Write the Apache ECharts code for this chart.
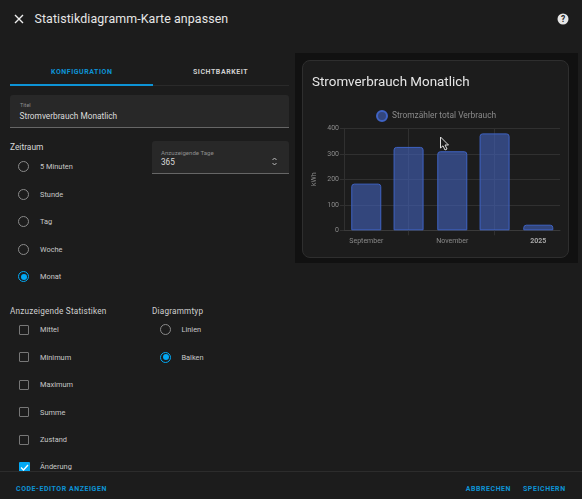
<!DOCTYPE html>
<html><head><meta charset="utf-8">
<script src="https://cdn.jsdelivr.net/npm/echarts@6/dist/echarts.min.js"></script>
<style>
html,body{margin:0;padding:0;background:#1c1c1c;width:582px;height:499px;overflow:hidden;font-family:Roboto,sans-serif;color:#e1e1e1}
#wrap{position:absolute;left:0;top:0;width:582px;height:499px;background:#1c1c1c;filter:blur(.3px)}
.t{position:absolute;white-space:nowrap;line-height:1;transform:translateY(-50%)}
.b{position:absolute}
.radio{position:absolute;width:9px;height:9px;border:1.5px solid #8a8a8a;border-radius:50%}
.radio.on{border-color:#03a9f4}
.radio.on:after{content:"";position:absolute;left:1.5px;top:1.5px;width:6px;height:6px;border-radius:50%;background:#03a9f4}
.cb{position:absolute;width:8px;height:8px;border:1.5px solid #777;border-radius:1px}
#panel{position:absolute;left:295px;top:53px;width:283px;height:210px;background:#111}
#card{position:absolute;left:302px;top:60px;width:265px;height:196px;background:#1c1c1c;border:1px solid #2e2e2e;border-radius:8px}
#chart{position:absolute;left:295px;top:53px;width:283px;height:210px}
</style></head><body>
<div id="wrap">
<div id="ui"></div>
<div id="panel"></div><div id="card"></div><div id="chart"></div>
<svg class="b" style="left:439px;top:136px" width="11" height="16" viewBox="0 0 11 16"><path d="M1.5 1 L1.5 12 L4 9.8 L6 14 L8 13 L6 9 L9.5 9 Z" fill="#1a1a1a" stroke="#ddd" stroke-width="1"/></svg>
</div>
<script>
const months = ['2024-09-01','2024-10-01','2024-11-01','2024-12-01','2025-01-01'];
const usage = [183, 327, 310, 380, 22];
const seriesName = 'Stromzähler total Verbrauch';
const chartTitle = 'Stromverbrauch Monatlich';
const yTicks = [0,100,200,300,400];
const labelMap = {'2024-09-01':'September','2024-11-01':'November','2025-01-01':'2025'};
const periods = ['5 Minuten','Stunde','Tag','Woche','Monat'];
const stats = ['Mittel','Minimum','Maximum','Summe','Zustand','Änderung'];
const chartTypes = ['Linien','Balken'];

const ui = document.getElementById('ui');
let h = '';
const T=(x,y,s,txt,extra='')=>{h+=`<div class="t" style="left:${x}px;top:${y}px;font-size:${s}px;${extra}">${txt}</div>`};
const B=(x,y,w,ht,c,extra='')=>{h+=`<div class="b" style="left:${x}px;top:${y}px;width:${w}px;height:${ht}px;background:${c};${extra}"></div>`};
const blue='#0d93d6';
const btn=`color:${blue};font-weight:700;letter-spacing:.55px`;
// header
h+=`<svg class="b" style="left:14px;top:14px" width="10" height="10"><path d="M1 1L9 9M9 1L1 9" stroke="#eee" stroke-width="1.4"/></svg>`;
T(34.5,19,12.4,'Statistikdiagramm-Karte anpassen','color:#e6e6e6;letter-spacing:.1px');
h+=`<svg class="b" style="left:557px;top:13px" width="12" height="12"><circle cx="6" cy="6" r="5.5" fill="#e6e6e6"/><text x="6" y="9" font-size="8.5" font-weight="700" text-anchor="middle" fill="#1c1c1c" font-family="Roboto">?</text></svg>`;
// tabs
T(51,72,7,'KONFIGURATION',btn);
T(193,72,7,'SICHTBARKEIT','color:#d0d0d0;font-weight:700;letter-spacing:.55px');
B(10,84,143,2,'#0d93d6'); B(153,85,136,1,'#2a2a2a');
// title field
B(10,95,279,33,'#282828','border-radius:3px 3px 0 0');
B(10,126.5,279,1.5,'#666');
T(20,106,5.5,'Titel','color:#8d8d8d');
T(19.5,115.5,8.3,chartTitle,'color:#dcdcdc');
// Zeitraum
T(10,147,8.4,'Zeitraum','color:#d8d8d8');
const py=[167,194.5,222,250,277];
periods.forEach((p,i)=>{h+=`<div class="radio${i==4?' on':''}" style="left:18px;top:${py[i]-6}px"></div>`;T(40,py[i],7.4,p,'color:#c8c8c8')});
// days
B(152,141,137,33,'#282828','border-radius:3px 3px 0 0');
B(152,172.5,137,1.5,'#666');
T(161,152.5,6.1,'Anzuzeigende Tage','color:#8d8d8d');
T(161,161.5,8.2,'365','color:#dcdcdc');
h+=`<svg class="b" style="left:270px;top:156px" width="9" height="11"><path d="M2.5 4L4.5 2L6.5 4M2.5 7L4.5 9L6.5 7" fill="none" stroke="#bbb" stroke-width="1"/></svg>`;
// stats
T(10,310.7,8.2,'Anzuzeigende Statistiken','color:#d0d0d0;letter-spacing:.2px');
T(152,310.7,8.2,'Diagrammtyp','color:#d0d0d0;letter-spacing:.2px');
const sy=[330,357.7,385,412.7,440,467];
stats.forEach((s,i)=>{
 if(i<5) h+=`<div class="cb" style="left:19px;top:${sy[i]-5.5}px"></div>`;
 else h+=`<div class="b" style="left:19px;top:${sy[i]-5.5}px;width:10.5px;height:11px;background:#03a9f4;border-radius:1px"><svg width="11" height="11" style="display:block"><path d="M2 5.5L4.5 8L9 3" fill="none" stroke="#fff" stroke-width="1.3"/></svg></div>`;
 T(40,sy[i],7.4,s,'color:#c8c8c8');
});
chartTypes.forEach((s,i)=>{h+=`<div class="radio${i==1?' on':''}" style="left:160px;top:${sy[i]-6}px"></div>`;T(181.5,sy[i],7.4,s,'color:#c8c8c8')});
// footer
B(0,471,582,28,'#1c1c1c'); B(0,471,582,1,'#2c2c2c');
T(16,489,7,'CODE-EDITOR ANZEIGEN',btn);
T(465.7,489,7,'ABBRECHEN',btn);
T(523,489,7,'SPEICHERN',btn);
ui.innerHTML=h;

const ts = s => new Date(s+'T00:00:00Z').getTime();
const DAY = 864e5;
const chart = echarts.init(document.getElementById('chart'), null, {renderer:'canvas'});
chart.setOption({
  animation:false,
  backgroundColor:'transparent',
  title:{text:chartTitle,left:17,top:23,padding:0,textStyle:{color:'#e6e6e6',fontFamily:'Roboto',fontSize:13.4,fontWeight:400}},
  legend:{top:57,left:81,padding:0,itemWidth:10,itemHeight:10,icon:'circle',itemGap:1,
    data:[seriesName],textStyle:{color:'#8a8a8a',fontFamily:'Roboto',fontSize:8.4}},
  grid:{left:49,top:75.3,width:216,height:102},
  xAxis:{type:'value',
    min:ts(months[0])-15.8*DAY,max:ts(months[4])+15.4*DAY,
    axisLine:{onZero:false,lineStyle:{color:'#3a3a3a',width:1}},
    axisTick:{show:true,length:5,lineStyle:{color:'#303030'},customValues:[ts(months[1]),ts(months[3])]},
    splitLine:{show:true,lineStyle:{color:'#303030',width:1}},
    axisLabel:{color:'#8a8a8a',fontFamily:'Roboto',fontSize:7,margin:7,hideOverlap:false,showMinLabel:true,showMaxLabel:true,
      customValues:[ts(months[0]),ts(months[2]),ts(months[4])],
      formatter:function(v){const d=new Date(v).toISOString().slice(0,10);const l=labelMap[d]||'';return d==='2025-01-01'?'{y|'+l+'}':l;},
      rich:{y:{color:'#a8a8a8',fontWeight:700,fontSize:7,fontFamily:'Roboto'}}}
  },
  yAxis:{type:'value',min:yTicks[0],max:yTicks[4],interval:100,name:'kWh',nameLocation:'middle',nameGap:26,nameMoveOverlap:false,
    nameTextStyle:{color:'#8a8a8a',fontFamily:'Roboto',fontSize:7},
    axisLine:{show:true,lineStyle:{color:'#303030'}},
    axisTick:{show:true,length:4,lineStyle:{color:'#303030'}},
    splitLine:{lineStyle:{color:'#303030',width:1}},
    axisLabel:{color:'#8a8a8a',fontFamily:'Roboto',fontSize:7,margin:5}},
  series:[{name:seriesName,type:'bar',barWidth:30,
    data:months.map((m,i)=>[ts(m),usage[i]]),
    itemStyle:{color:'rgba(66,97,184,0.62)',borderColor:'#3f63c4',borderWidth:1,borderRadius:[2.5,2.5,0,0]}}]
});
</script></body></html>
